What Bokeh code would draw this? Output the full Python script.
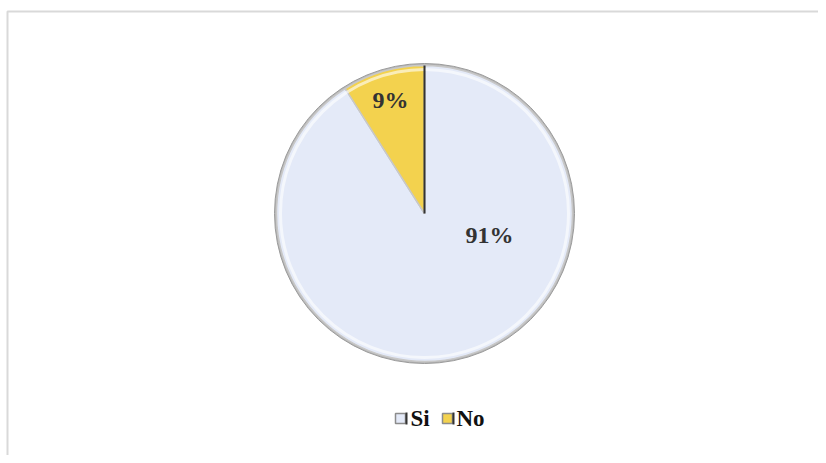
import math
from bokeh.plotting import figure
from bokeh.models import Range1d, ColumnDataSource
from bokeh.core.properties import value
from bokeh.embed import file_html
from bokeh.resources import INLINE

categories = ["Si", "No"]
shares = [91, 9]
labels = ["91%", "9%"]
colors = ["#e4eaf8", "#f3d24e"]

W, H = 818, 455
OFF = 0
p = figure(width=W, height=H, output_backend="svg", toolbar_location=None,
           x_range=Range1d(0, W), y_range=Range1d(0, H), min_border=0,
           outline_line_color=None, background_fill_color="white")
p.axis.visible = False
p.grid.visible = False

def py(y):  # page pixel y -> data y
    return H - (y - OFF)

def px(x):
    return x - OFF

# outer border
p.quad(left=[px(7)], right=[px(840)], top=[py(11)], bottom=[py(480)],
       fill_color=None, line_color="#d9d9d9", line_width=2)

cx, cy, r = px(424), py(213), 148
total = sum(shares)
start = math.pi / 2
no_frac = shares[1] / total
si_start = start + no_frac * 2 * math.pi
si_end = start + 2 * math.pi
src = ColumnDataSource(dict(start=[si_start, start], end=[si_end, si_start],
                            color=colors, cat=categories))
# rim shadow
p.circle(x=[cx], y=[cy], radius=r + 2, fill_color="#b8b8b8", line_color="#9a9a9a", line_width=1)
p.wedge(x=cx, y=cy, radius=r, start_angle="start", end_angle="end",
        fill_color="color", line_color="#c8c8c8", line_width=1.5, source=src)
p.circle(x=[cx], y=[cy], radius=r - 4, fill_color=None, line_color="white", line_alpha=0.6, line_width=3)
p.segment(x0=[cx], y0=[cy], x1=[cx], y1=[cy + r], line_color="#333333", line_width=2)

# labels
lab_pos = [(px(489), py(234)), (px(390), py(99))]
p.text(x=[q[0] for q in lab_pos], y=[q[1] for q in lab_pos], text=labels,
       text_font=value("Liberation Serif"), text_font_style="bold",
       text_font_size="24px", text_color="#333333",
       text_align="center", text_baseline="middle")

# legend
leg_x = [px(400), px(447)]
leg_tx = [px(410), px(456)]
leg_y = py(418)
p.scatter(x=leg_x, y=[leg_y, leg_y], marker="square", size=10,
          fill_color=colors, line_color="#8c8c8c", line_width=1.5)
p.segment(x0=[q + 6 for q in leg_x], y0=[leg_y - 6] * 2, x1=[q + 6 for q in leg_x],
          y1=[leg_y + 6] * 2, line_color="#333333", line_width=2)
p.text(x=leg_tx, y=[leg_y, leg_y], text=categories,
       text_font=value("Liberation Serif"), text_font_style="bold",
       text_font_size="23px", text_color="#111111",
       text_align="left", text_baseline="middle")

open("out.html", "w").write(file_html(p, INLINE))
